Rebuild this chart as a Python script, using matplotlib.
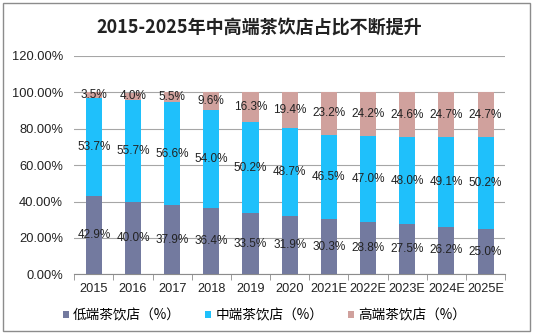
import matplotlib
matplotlib.use("Agg")
import matplotlib.pyplot as plt
from matplotlib.patches import Rectangle
from matplotlib.ticker import FuncFormatter
import numpy as np

plt.rcParams['font.family'] = ['Liberation Sans', 'Noto Sans CJK SC', 'DejaVu Sans']

years = ["2015", "2016", "2017", "2018", "2019", "2020", "2021E", "2022E", "2023E", "2024E", "2025E"]
low = [42.9, 40.0, 37.9, 36.4, 33.5, 31.9, 30.3, 28.8, 27.5, 26.2, 25.0]
mid = [53.7, 55.7, 56.6, 54.0, 50.2, 48.7, 46.5, 47.0, 48.0, 49.1, 50.2]
high = [3.5, 4.0, 5.5, 9.6, 16.3, 19.4, 23.2, 24.2, 24.6, 24.7, 24.7]
series_names = ["低端茶饮店（%）", "中端茶饮店（%）", "高端茶饮店（%）"]
title = "2015-2025年中高端茶饮店占比不断提升"

c_low = "#737a9f"
c_mid = "#1fc0fb"
c_high = "#d0a19d"

fig = plt.figure(figsize=(5.34, 3.36), dpi=100)
ax = fig.add_axes([0.139, 0.1836, 0.807, 0.65])

x = np.arange(len(years))
w = 0.41
low_a = np.array(low)
mid_a = np.array(mid)
high_a = np.array(high)
b1 = ax.bar(x, low_a, w, color=c_low, label=series_names[0], zorder=3)
b2 = ax.bar(x, mid_a, w, bottom=low_a, color=c_mid, label=series_names[1], zorder=3)
b3 = ax.bar(x, high_a, w, bottom=low_a + mid_a, color=c_high, label=series_names[2], zorder=3)

lab_fs = 8.5
for i in range(len(years)):
    ax.text(x[i], low_a[i] / 2, f"{low[i]:.1f}%", ha="center", va="center", fontsize=lab_fs, color="#222222", zorder=4)
    ax.text(x[i], low_a[i] + mid_a[i] / 2, f"{mid[i]:.1f}%", ha="center", va="center", fontsize=lab_fs, color="#222222", zorder=4)
    top = min(low_a[i] + mid_a[i] + high_a[i] / 2, 100)
    ax.text(x[i], top, f"{high[i]:.1f}%", ha="center", va="center", fontsize=lab_fs, color="#222222", zorder=4)

ax.set_ylim(0, 120)
ax.set_xlim(-0.5, len(years) - 0.5)
ax.set_yticks(np.arange(0, 121, 20))
ax.yaxis.set_major_formatter(FuncFormatter(lambda v, p: f"{v:.2f}%"))
ax.grid(axis="y", color="#a6a6a6", linewidth=0.8, zorder=0)
for s in ["top", "right", "left"]:
    ax.spines[s].set_visible(False)
ax.spines["bottom"].set_color("#8c8c8c")
ax.tick_params(axis="y", length=0, labelsize=9.3, pad=8, colors="#222222")
ax.set_xticks(x)
ax.set_xticklabels(years)
ax.set_xticks(np.arange(-0.5, len(years), 1), minor=True)
ax.tick_params(axis="x", which="major", length=0, labelsize=9.2, pad=6, colors="#222222")
ax.tick_params(axis="x", which="minor", length=4, color="#8c8c8c")

fig.text(0.485, 0.92, title, ha="center", va="center", fontsize=13, fontweight="bold",
         family=["Noto Sans CJK SC", "DejaVu Sans"], color="#222222")

leg = fig.legend(handles=[b1, b2, b3], labels=series_names, loc="center", bbox_to_anchor=(0.495, 0.062),
                 ncol=3, frameon=False, handlelength=0.45, handleheight=0.45,
                 handletextpad=0.3, columnspacing=1.8, borderpad=0,
                 prop={"family": ["Noto Sans CJK SC", "DejaVu Sans"], "size": 9.8})

fig.patches.append(Rectangle((3 / 534, 5 / 336), 527 / 534, 328 / 336, transform=fig.transFigure,
                             fill=False, edgecolor="#8c8c8c", linewidth=1))

fig.savefig("out.png", dpi=100)
